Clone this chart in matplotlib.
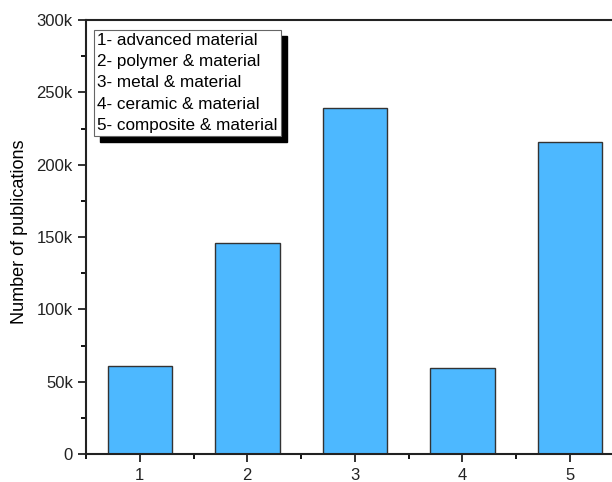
import matplotlib
matplotlib.use("Agg")
import matplotlib.pyplot as plt
from matplotlib.ticker import MultipleLocator, FuncFormatter
from matplotlib.patches import Rectangle

categories = [1, 2, 3, 4, 5]
values = [61000, 145800, 239000, 59200, 215500]
legend_lines = ["1- advanced material", "2- polymer & material", "3- metal & material",
                "4- ceramic & material", "5- composite & material"]
ylabel = "Number of publications"

plt.rcParams['font.family'] = ['Liberation Sans', 'DejaVu Sans']

fig = plt.figure(figsize=(6.12, 4.82), dpi=100)
ax = fig.add_axes([86/612, 28/482, 537.5/612, 434/482])

ax.bar(categories, values, width=0.6, color='#4db8ff', edgecolor='#333333', linewidth=1.0)

ax.set_xlim(0.5, 5.5)
ax.set_ylim(0, 300000)
ax.xaxis.set_major_locator(MultipleLocator(1))
ax.xaxis.set_minor_locator(MultipleLocator(0.5))
ax.yaxis.set_major_locator(MultipleLocator(50000))
ax.yaxis.set_minor_locator(MultipleLocator(25000))
ax.yaxis.set_major_formatter(FuncFormatter(lambda v, p: "0" if v == 0 else f"{int(v/1000)}k"))

for s in ax.spines.values():
    s.set_linewidth(1.5)
    s.set_color('#222222')
ax.tick_params(axis='both', which='major', direction='out', length=6, width=1.3, labelsize=12, colors='#222222')
ax.tick_params(axis='both', which='minor', direction='out', length=3.5, width=1.3)
ax.tick_params(axis='x', pad=4)

fig.text(20/612, 1 - 232/482, ylabel, rotation=90, ha='center', va='center', fontsize=13)

txt = "\n".join(legend_lines)
x0, y0 = 97/612, 1 - 33/482
t = fig.text(x0, y0, txt, ha='left', va='top', fontsize=12.3, linespacing=1.52, color='black',
             zorder=10,
             bbox=dict(boxstyle='square,pad=0.2', facecolor='white', edgecolor='#666666', linewidth=0.8))
fig.canvas.draw()
bb = t.get_bbox_patch().get_window_extent(fig.canvas.get_renderer())
shadow = Rectangle((bb.x0 + 6, bb.y0 - 6), bb.width, bb.height, transform=None,
                   facecolor='black', edgecolor='black', zorder=9)
fig.add_artist(shadow)

fig.savefig("out.png", dpi=100)
